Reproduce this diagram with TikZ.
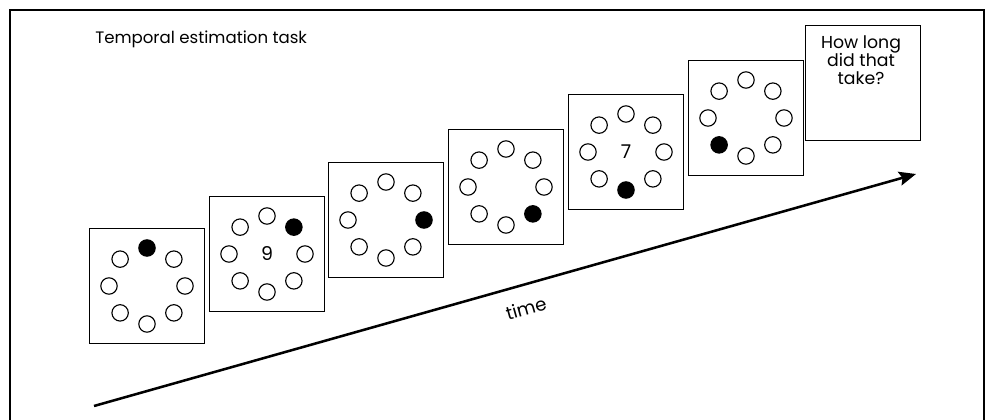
\documentclass[tikz,border=0pt]{standalone}
\usepackage{fontspec}
\setmainfont{Poppins}
\usetikzlibrary{calc,arrows.meta}
\begin{document}
\begin{tikzpicture}[x=0.025cm,y=-0.025cm,
  screen/.style={draw,line width=0.9pt,minimum size=2.875cm,inner sep=0pt,font=\fontsize{13.5}{15}\selectfont},
  emptydot/.style={circle,draw,line width=0.8pt,minimum size=0.41cm,inner sep=0pt},
  fulldot/.style={circle,draw,fill=black,line width=0.8pt,minimum size=0.41cm,inner sep=0pt},
  lbl/.style={font=\fontsize{11.8}{13}\selectfont,inner sep=0pt}]
\useasboundingbox (0,0) rectangle (993,420);
\draw[line width=1.4pt] (10,425) -- (10,10) -- (984,10) -- (984,425);
\node[lbl,anchor=base west] (title) at (95,44) {Temporal estimation task};
\node[screen] (b1) at (147,286) {};
\node[screen] (b2) at (267,254) {9};
\node[screen] (b3) at (386,220) {};
\node[screen] (b4) at (506,187) {};
\node[screen] (b5) at (626,152) {7};
\node[screen] (b6) at (746,118) {};
\node[screen] (b7) at (863,83) {};
\node[lbl,align=center,font=\fontsize{12.3}{13}\selectfont] (q) at (861,60) {How long\\did that\\take?};
\foreach \b/\f in {1/90,2/45,3/0,4/-45,5/-90,6/-135}{
  \foreach \a in {90,45,0,-45,-90,-135,180,135}{
    \ifnum\a=\f
      \node[fulldot] (d\b-\a) at ($(b\b.center)+(\a:0.95cm)$) {};
    \else
      \node[emptydot] (d\b-\a) at ($(b\b.center)+(\a:0.95cm)$) {};
    \fi
  }
}
\coordinate (tail) at (94,406);
\coordinate (head) at (916,174);
\draw[line width=1.8pt,-{Stealth[length=12pt,width=10pt,inset=2pt]}] (tail) -- (head);
\node[lbl,rotate=15.8,font=\fontsize{13}{15}\selectfont] (time) at (526,308) {time};
\end{tikzpicture}
\end{document}
